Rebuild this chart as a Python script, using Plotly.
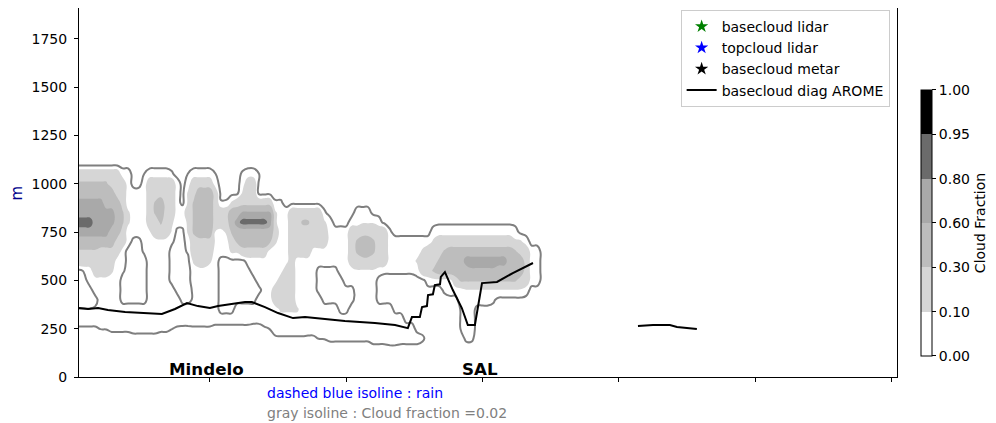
import plotly.graph_objects as go

FONT = "DejaVu Sans"

# ---------------- data ----------------
# Cloud-fraction field: one string per height (top to bottom),
# one character per column (x = 2, 4, 6, ...). Characters are codes for cloud fraction values.
heights_m = [1150, 1100, 1050, 1000, 950, 900, 850, 800, 750, 700, 650,
             600, 550, 500, 450, 400, 350, 300, 250, 200, 150, 100]
x_first = 2
x_step = 2
n_cols = 87
cloud_rows = [
    "",
    "",
    "11111111aa ..yaaaaz.. yaaaay.... zaay",
    "rrrrrr111a ..a11111a. a1111a.... a11",
    "222222211a aaa11111a. c12221.... c11",
    "333332221a aaa1r211a. cr2221zzc1 111111zz",
    "33333332rc aaa1r211ab cr22211122 nnnnnncaa1 11111z.... .aaa",
    "44433332rc aaa11r1caa cr22211123 444443caa1 1rr11ca... aabbba",
    "333333221a aaab111b.. cr222bacr2 2222221aa1 111111aaaa 1111111z.. .....abbbb bbbbbbbbbb a",
    "222222211a ..aaadaz.. a1111baa1r 22222rcaa1 111111aaaa 1r22r11aaa aaaaaccccc cccccccccc cca",
    "mmmm1111a. ..zaaaa... z1111aaacc 11111aaaa1 111aaaaaaa 1r22r11aaa aaac111r22 2222222222 r11aa",
    "1111111aa. ...aaaa... .c11ca.... .aaaaaaaa1 aaaaaaaaaa 1111111aaa aac111r222 2333333332 221aa",
    ".za111caz. ...aaaa... .aaaaa.... ..aaaaaa11 aaaa....aa abbbbazzzz zza11r2222 22kkkkk222 221aa",
    "..aaaaaa.. ...aaaa... .aaaaa.... ...aaaa111 aaaa.....a aaaaa..... ....aaaaa1 rrrrrrrrrr r11aa",
    "...aaaaa.. ...aaaaa.. .zaaaa.... ....aa1111 aaaa...... .aaaa..... .......zaa abbbbbbbbb bba",
    "....aaaa.. ...aaaaaa. .zaaaa.... ...aaa1111 aaaaa..... .aaaa..... .......... aaaaaaz",
    "yyyzaaaaaa aaaaaaaaaa aaaaaa...a aaaaaaaccc caaaaaaa.. aaaaaaaa.. .......... yaa",
    "bbbbaaaaaa aaaaaaaabd dbbbbaaaaa aaeebaaaaa aaaaaaaaaa aaaaaaaaaa .......... yaa",
    "....yyzzzz eeeeezzy.. .......... .....ydbbb bbddaaaaaa aaaaaaaaaa aa........ yaa",
    ".......... .......... .......... .......... ....yyzzzz zzzzaaadda aaaz...... .zz",
    "",
    "",
]
cf_code = {'.': 0.0, 'y': 0.022, 'z': 0.03, 'e': 0.04, 'a': 0.05, 'd': 0.07,
           'b': 0.09, 'c': 0.12, '1': 0.2, 'm': 0.27, 'r': 0.33, '2': 0.45,
           'k': 0.55, 'n': 0.65, '3': 0.72, '4': 0.88}

fill_levels = [0.1, 0.3, 0.6, 0.8, 0.95]
fill_colors = ['#d6d6d6', '#bdbdbd', '#a9a9a9', '#6b6b6b', '#000000']
cbar_ticktext = ['0.00', '0.10', '0.30', '0.60', '0.80', '0.95', '1.00']
isoline_value = 0.02

# basecloud diag AROME (m)
arome_x = [2.0, 5.3, 9.0, 12.6, 18.9, 25.1, 32.4, 37.2, 41.6, 45.6, 50.0, 53.0, 58.1,
           62.9, 65.4, 70.2, 75.0, 80.5, 84.9, 91.1, 99.5, 110.5, 117.9, 122.6, 124.1,
           127.0, 127.8, 129.6, 130.0, 131.8, 132.5, 134.4, 134.7, 136.2, 139.1, 142.4,
           144.6, 147.2, 149.8, 155.3, 161.1, 168.5,
           None,
           207.0, 212.5, 218.7, 221.3, 228.6]
arome_y = [357, 352, 357, 347, 336, 331, 326, 352, 383, 367, 357, 367, 378,
           388, 388, 362, 331, 305, 310, 300, 290, 279, 269, 253, 310,
           310, 362, 367, 424, 428, 476, 480, 518, 543, 450, 357,
           269, 269, 486, 492, 538, 590,
           None,
           264, 269, 269, 259, 248]

site_names = ['Mindelo', 'SAL']
site_x = [48.9, 149.0]

x_ticks = [50, 100, 150, 200, 250, 300]
y_ticks = [0, 250, 500, 750, 1000, 1250, 1500, 1750]

# ---------------- build field ----------------
xs = [x_first + x_step * j for j in range(n_cols)]
z_rows = []
for s in cloud_rows:
    s = s.replace(" ", "").ljust(n_cols, ".")
    z_rows.append([cf_code[c] for c in s])
ys = heights_m[::-1]
Z = z_rows[::-1]

fig = go.Figure()

for lev, col in zip(fill_levels, fill_colors):
    fig.add_trace(go.Contour(
        x=xs, y=ys, z=Z,
        contours=dict(type='constraint', operation='<', value=lev),
        fillcolor=col, line=dict(width=0, color=col, smoothing=1.3),
        showscale=False, showlegend=False, hoverinfo='skip'))

fig.add_trace(go.Contour(
    x=xs, y=ys, z=Z, autocontour=False,
    contours=dict(coloring='none', start=isoline_value, end=isoline_value, size=0.1),
    line=dict(color='#7f7f7f', width=2, smoothing=1.3),
    showscale=False, showlegend=False, hoverinfo='skip'))

# discrete colour bar
all_colors = ['#ffffff'] + fill_colors
cscale = []
n = len(all_colors)
for i, c in enumerate(all_colors):
    cscale.append([i / n, c])
    cscale.append([(i + 1) / n, c])
fig.add_trace(go.Scatter(
    x=[None], y=[None], mode='markers', showlegend=False, hoverinfo='skip',
    marker=dict(color=[0.5], cmin=0, cmax=n, colorscale=cscale, showscale=True,
                colorbar=dict(
                    x=1.029, xanchor='left', xpad=0, y=0.057, yanchor='bottom', ypad=0,
                    len=0.721, lenmode='fraction', thickness=11, thicknessmode='pixels',
                    outlinecolor='black', outlinewidth=1,
                    tickmode='array', tickvals=list(range(n + 1)), ticktext=cbar_ticktext,
                    ticks='outside', ticklen=4, tickcolor='black',
                    tickfont=dict(size=14, color='black', family=FONT),
                    title=dict(text='Cloud Fraction', side='right',
                               font=dict(size=14, color='black', family=FONT))))))

for name, col in [('basecloud lidar', 'green'), ('topcloud lidar', 'blue'),
                  ('basecloud metar', 'black')]:
    fig.add_trace(go.Scatter(x=[None], y=[None], mode='markers', name=name,
                             marker=dict(symbol='star', size=10, color=col)))

fig.add_trace(go.Scatter(x=arome_x, y=arome_y, mode='lines', name='basecloud diag AROME',
                         line=dict(color='black', width=2), connectgaps=False, hoverinfo='skip'))

annotations = [
    dict(text='m', x=-0.0758, y=0.5, xref='paper', yref='paper', showarrow=False,
         xanchor='center', yanchor='middle',
         textangle=-90, font=dict(size=15, color='#00008b')),
    dict(text='dashed blue isoline : rain', x=0.2274, y=-0.0434, xref='paper', yref='paper',
         xanchor='left', yanchor='middle', showarrow=False, font=dict(size=14, color='blue')),
    dict(text='gray isoline : Cloud fraction =0.02', x=0.2274, y=-0.0976, xref='paper',
         yref='paper', xanchor='left', yanchor='middle', showarrow=False,
         font=dict(size=14, color='gray')),
]
for nm, xv in zip(site_names, site_x):
    annotations.append(dict(text='<b>' + nm + '</b>', x=xv, y=0, xref='x', yref='y',
                            xanchor='center', yanchor='bottom', yshift=-4, showarrow=False,
                            font=dict(size=16.7, color='black')))

fig.update_layout(
    width=988, height=415,
    margin=dict(l=71, r=99, t=0, b=46),
    plot_bgcolor='white', paper_bgcolor='white',
    font=dict(family=FONT, size=14, color='black'),
    xaxis=dict(range=[2, 302], tickvals=x_ticks, showticklabels=False, ticks='outside',
               ticklen=4, tickcolor='black', showline=True, linecolor='black', linewidth=1,
               mirror=True, showgrid=False, zeroline=False, automargin=False),
    yaxis=dict(range=[0, 1910], tickvals=y_ticks, ticks='outside', ticklen=4,
               tickcolor='black', showline=True, linecolor='black', linewidth=1,
               mirror=True, showgrid=False, zeroline=False, automargin=False,
               ticklabelstandoff=4, tickfont=dict(size=14)),
    legend=dict(x=0.991, y=0.995, xanchor='right', yanchor='top', bgcolor='white',
                bordercolor='#cccccc', borderwidth=1, font=dict(size=14)),
    annotations=annotations,
)

fig.write_html("out.html")
